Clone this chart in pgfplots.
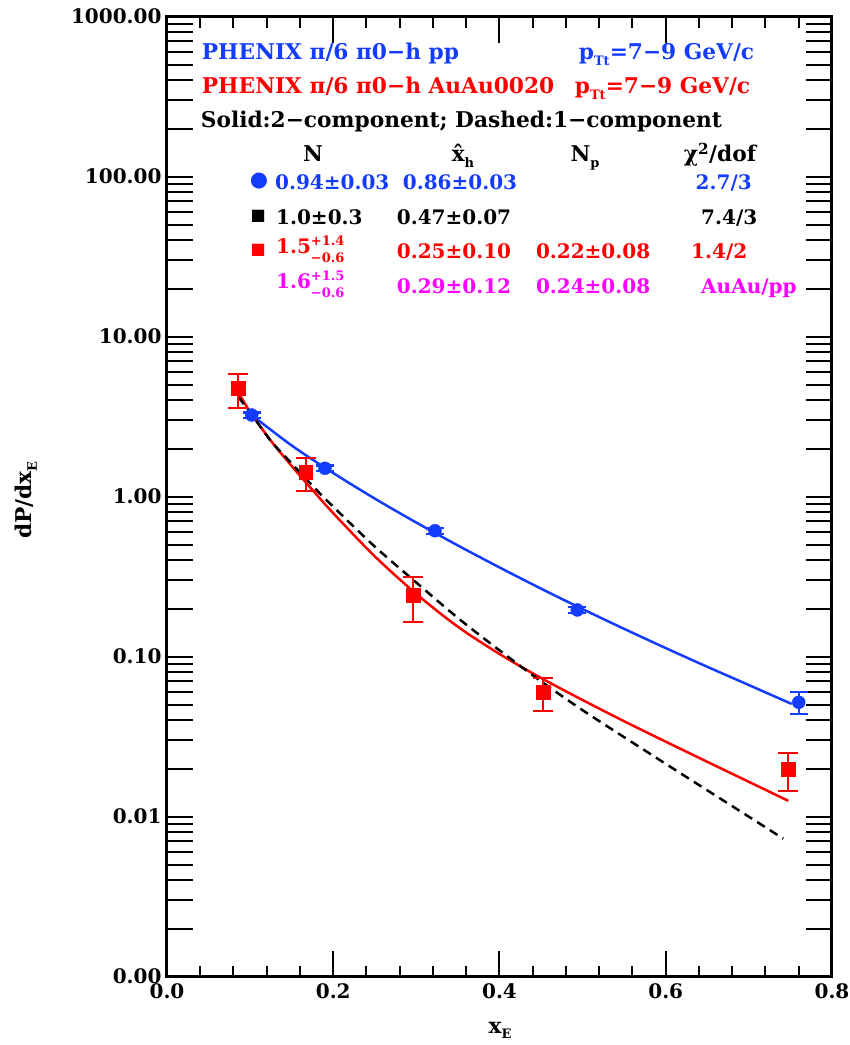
\documentclass[border=0pt]{standalone}
\usepackage{fontspec}
\setmainfont{DejaVu Serif}
\newfontfamily\symfont{DejaVu Sans}
\usepackage{pgfplots}
\pgfplotsset{compat=1.18}
\definecolor{cblue}{RGB}{20,60,255}
\definecolor{cred}{RGB}{255,0,0}
\definecolor{cmag}{RGB}{255,0,255}
\newcommand\fs[1]{\fontsize{#1}{#1}\selectfont}
\newcommand\sub[1]{\raisebox{-0.45ex}{\fs{13}#1}}
\newcommand\asym[2]{{\fs{13}\renewcommand\arraystretch{1.3}\begin{tabular}[c]{@{}l@{}}#1\\#2\end{tabular}}}

\pgfplotstableread{
x y ep em
0.1019 3.24 0.12 0.12
0.190 1.505 0.06 0.06
0.3224 0.613 0.025 0.025
0.4936 0.196 0.009 0.009
0.760 0.0519 0.008 0.0082
}\ppdata
\pgfplotstableread{
x y ep em
0.0858 4.76 1.09 1.16
0.1672 1.42 0.33 0.335
0.2963 0.243 0.073 0.0775
0.4527 0.0599 0.014 0.0139
0.7475 0.0198 0.0051 0.0053
}\aadata

\begin{document}
\begin{tikzpicture}
\begin{axis}[
  width=665pt, height=960pt, scale only axis,
  xmin=0, xmax=0.8, ymin=0.001, ymax=1000, ymode=log,
  xtick={0,0.2,0.4,0.6,0.8}, xticklabels={0.0,0.2,0.4,0.6,0.8},
  minor x tick num=4,
  ytick={0.001,0.002,0.003,0.004,0.005,0.006,0.007,0.008,0.009,
         0.01,0.02,0.03,0.04,0.05,0.06,0.07,0.08,0.09,
         0.1,0.2,0.3,0.4,0.5,0.6,0.7,0.8,0.9,
         1,2,3,4,5,6,7,8,9,
         10,20,30,40,50,60,70,80,90,
         100,200,300,400,500,600,700,800,900,1000},
  yticklabels={0.00,,,,,,,,,0.01,,,,,,,,,0.10,,,,,,,,,1.00,,,,,,,,,10.00,,,,,,,,,100.00,,,,,,,,,1000.00},
  yminorticks=false,
  major tick length=26pt, minor tick length=11pt,
  tick style={line width=2pt, black},
  axis line style={line width=3pt},
  ticklabel style={font=\bfseries\fs{20}},
  yticklabel style={xshift=-2pt},
  xticklabel style={yshift=-3pt},
]
\addplot[cblue, line width=2.5pt, smooth] coordinates {
(0.1019,3.24) (0.15,2.09) (0.20,1.406) (0.25,0.973) (0.30,0.689) (0.35,0.4955)
(0.40,0.3614) (0.45,0.2663) (0.50,0.1984) (0.55,0.1493) (0.60,0.1132) (0.65,0.0865)
(0.70,0.0665) (0.7515,0.0507)};
\addplot[cred, line width=2.5pt, smooth] coordinates {
(0.0858,4.50) (0.10,3.385) (0.125,2.236) (0.15,1.556) (0.175,1.102) (0.20,0.789)
(0.25,0.4236) (0.30,0.2466) (0.35,0.1538) (0.40,0.104) (0.45,0.0736) (0.50,0.0536)
(0.55,0.0395) (0.60,0.02944) (0.65,0.02203) (0.70,0.01652) (0.7475,0.01256)};
\addplot[black, line width=2.5pt, dash pattern=on 9pt off 6pt, smooth] coordinates {
(0.0858,4.2) (0.10,3.37) (0.125,2.23) (0.15,1.614) (0.175,1.17) (0.20,0.866)
(0.25,0.4876) (0.30,0.2905) (0.35,0.1746) (0.40,0.1096) (0.45,0.0702) (0.50,0.0463)
(0.55,0.0314) (0.60,0.0214) (0.65,0.01462) (0.70,0.0100) (0.7414,0.00729)};
\addplot[only marks, mark=*, mark size=6.5pt, color=cblue,
  error bars/.cd, y dir=both, y explicit,
  error bar style={line width=2.2pt, cblue},
  error mark options={rotate=90, mark size=9pt, line width=2.2pt, cblue}]
  table[x=x, y=y, y error plus=ep, y error minus=em] {\ppdata};
\addplot[only marks, mark=square*, mark size=6.7pt, color=cred,
  error bars/.cd, y dir=both, y explicit,
  error bar style={line width=2.2pt, cred},
  error mark options={rotate=90, mark size=10pt, line width=2.2pt, cred}]
  table[x=x, y=y, y error plus=ep, y error minus=em] {\aadata};
\end{axis}
\begin{scope}[shift={(current axis.north west)}, xshift=-167pt, yshift=16.7pt, x=1pt, y=-1pt,
  every node/.style={inner sep=0pt, font=\bfseries\fs{21.7}}]
\node[anchor=base west, text=cblue] at (201.7,60) {PHENIX π/6 π0−h pp};
\node[anchor=base west, text=cblue] at (578.7,60) {p\sub{Tt}=7−9 GeV/c};
\node[anchor=base west, text=cred] at (201.7,94) {PHENIX π/6 π0−h AuAu0020};
\node[anchor=base west, text=cred] at (574.7,94) {p\sub{Tt}=7−9 GeV/c};
\node[anchor=base west] at (200.7,128) {Solid:2−component; Dashed:1−component};
\node[anchor=base] at (313,162) {N};
\node[anchor=base] at (463,162) {\^{x}\sub{h}};
\node[anchor=base] at (585,162) {N\sub{p}};
\node[anchor=base] at (720,162) {χ\textsuperscript{2}/dof};
\begin{scope}[every node/.append style={font=\bfseries\fs{20}}]
\node[text=cblue, font=\symfont\fs{21}] at (259,181) {●};
\node[anchor=base west, text=cblue] at (275,189.3) {0.94±0.03};
\node[anchor=base west, text=cblue] at (402.7,189.3) {0.86±0.03};
\node[anchor=base west, text=cblue] at (695.5,189.3) {2.7/3};
\node[font=\symfont\fs{16}] at (258.3,216.7) {■};
\node[anchor=base west] at (276,224.5) {1.0±0.3};
\node[anchor=base west] at (396.7,224.5) {0.47±0.07};
\node[anchor=base west] at (701,224.5) {7.4/3};
\node[text=cred, font=\symfont\fs{16}] at (258.3,250) {■};
\node[anchor=west, text=cred] at (276,251) {1.5\asym{+1.4}{−0.6}};
\node[anchor=base west, text=cred] at (396.7,258.3) {0.25±0.10};
\node[anchor=base west, text=cred] at (535.8,258.3) {0.22±0.08};
\node[anchor=base west, text=cred] at (691,258.3) {1.4/2};
\node[anchor=west, text=cmag] at (276,286) {1.6\asym{+1.5}{−0.6}};
\node[anchor=base west, text=cmag] at (396.7,293.3) {0.29±0.12};
\node[anchor=base west, text=cmag] at (535.8,293.3) {0.24±0.08};
\node[anchor=base west, text=cmag] at (701,293.3) {AuAu/pp};
\end{scope}
\node[rotate=90] at (26,500) {dP/dx\sub{E}};
\node at (500,1030) {x\sub{E}};
\end{scope}
\pgfresetboundingbox
\path ([xshift=-167pt,yshift=16.7pt]current axis.north west) rectangle ([xshift=18pt,yshift=-68.3pt]current axis.south east);
\end{tikzpicture}
\end{document}
